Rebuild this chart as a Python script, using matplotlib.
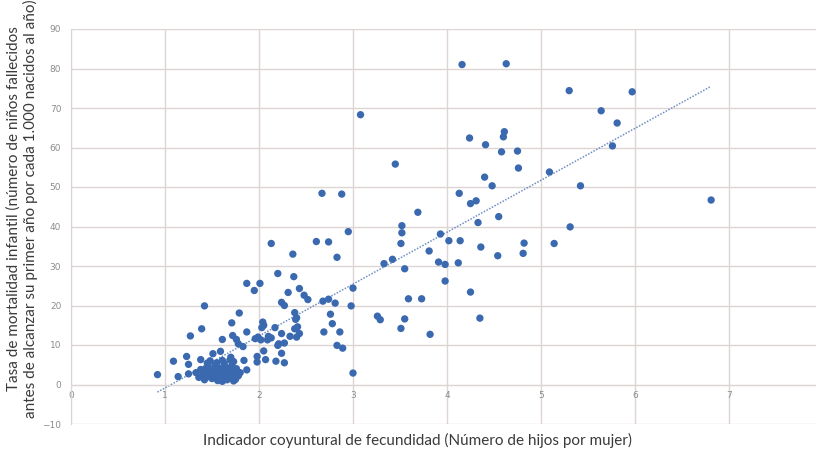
import numpy as np
import matplotlib
matplotlib.use("Agg")
import matplotlib.pyplot as plt

# indicador coyuntural de fecundidad (x) vs tasa de mortalidad infantil (y)
fert_hi = [4.16, 4.63, 5.30, 5.97, 5.64, 5.81, 5.76, 3.08, 4.24, 4.61, 4.60, 4.41, 4.75, 4.58,
           4.76, 4.40, 4.48, 5.09, 5.42, 3.45, 3.69, 4.13, 4.25, 4.31, 4.33, 4.55, 3.52, 3.52,
           3.51, 3.93, 4.02, 4.14, 3.81, 4.36, 4.54, 4.82, 4.81, 3.33, 3.42, 3.55, 3.91, 3.98,
           4.12, 3.98, 4.25, 3.59, 3.73, 3.26, 3.29, 3.55, 3.51, 3.82, 4.35, 5.31, 5.14, 6.81]
mort_hi = [81.0, 81.2, 74.4, 74.1, 69.3, 66.2, 60.4, 68.3, 62.4, 64.0, 62.7, 60.7, 59.1, 58.9,
           54.8, 52.5, 50.3, 53.8, 50.3, 55.8, 43.6, 48.4, 45.8, 46.5, 41.0, 42.5, 40.2, 38.4,
           35.7, 38.1, 36.4, 36.4, 33.8, 34.8, 32.6, 35.8, 33.2, 30.6, 31.7, 29.3, 31.0, 30.4,
           30.8, 26.2, 23.4, 21.7, 21.7, 17.3, 16.4, 16.6, 14.2, 12.7, 16.8, 39.9, 35.7, 46.7]

fert_mid = [2.67, 2.88, 2.95, 2.13, 2.61, 2.74, 2.36, 2.83, 2.20, 2.37, 1.87, 2.01, 1.95, 2.43,
            2.31, 2.48, 2.52, 2.24, 2.27, 2.68, 2.74, 2.81, 3.00, 2.98, 1.79, 2.38, 2.76, 2.40,
            2.39, 2.41, 2.38, 2.43, 2.40, 2.33, 2.24, 2.17, 2.04, 2.05, 2.03, 1.99, 2.02, 2.10,
            2.13, 2.20, 2.21, 2.27, 2.24, 2.05, 1.98, 1.98, 2.07, 2.18, 2.27, 2.78, 2.69, 2.86,
            2.83, 2.89, 3.00, 2.09]
mort_mid = [48.4, 48.2, 38.7, 35.7, 36.2, 36.1, 33.0, 32.2, 28.1, 27.3, 25.6, 25.6, 23.8, 24.3,
            23.3, 22.6, 21.5, 20.8, 20.0, 21.1, 21.6, 20.6, 24.4, 19.9, 18.1, 18.2, 17.8, 16.9,
            16.5, 14.6, 14.1, 12.9, 12.0, 12.2, 12.9, 14.4, 15.8, 15.0, 14.4, 12.0, 11.3, 12.2,
            11.8, 9.9, 10.3, 10.5, 7.9, 8.5, 7.1, 5.7, 6.3, 5.9, 5.5, 15.4, 13.3, 13.3,
            9.9, 9.2, 2.9, 11.3]

fert_lo = [1.42, 1.71, 1.39, 1.27, 1.87, 1.61, 1.72, 1.76, 1.78, 1.83, 1.96, 1.59, 1.51, 1.23,
           1.09, 1.25, 1.38, 1.45, 1.61, 1.70, 1.73, 1.84, 1.87, 0.92, 1.14, 1.25,
           1.33, 1.36, 1.38, 1.40, 1.42, 1.44, 1.46, 1.47, 1.49, 1.50, 1.52, 1.53, 1.54, 1.56,
           1.57, 1.58, 1.59, 1.60, 1.62, 1.63, 1.64, 1.65, 1.66, 1.67, 1.68, 1.70, 1.71, 1.72,
           1.74, 1.75, 1.76, 1.78, 1.80, 1.55, 1.48, 1.69, 1.43, 1.61, 1.73]
mort_lo = [19.9, 15.6, 14.1, 12.3, 13.3, 11.4, 12.4, 11.4, 10.3, 9.6, 11.6, 8.4, 7.8, 7.1,
           5.9, 5.1, 6.3, 5.4, 6.1, 6.9, 5.8, 6.1, 3.7, 2.5, 2.0, 2.7,
           3.0, 1.8, 3.8, 2.4, 1.2, 3.3, 4.4, 2.0, 2.9, 1.5, 3.6, 4.8, 2.3, 1.0,
           3.1, 4.1, 2.6, 1.6, 3.5, 5.2, 2.1, 4.3, 1.2, 2.9, 3.9, 1.8, 4.7, 2.6,
           3.3, 1.3, 4.0, 2.2, 3.0, 5.5, 6.0, 6.2, 4.0, 0.8, 0.9]

x_ticks = [0, 1, 2, 3, 4, 5, 6, 7]
y_ticks = [-10, 0, 10, 20, 30, 40, 50, 60, 70, 80, 90]

fert = np.array(fert_hi + fert_mid + fert_lo)
mort = np.array(mort_hi + mort_mid + mort_lo)

grid_c = "#ddd5d2"
dot_c = "#3b69b0"
fonts = ["Lato", "DejaVu Sans"]

fig = plt.figure(figsize=(8.16, 4.54), dpi=100)
ax = fig.add_axes([71 / 816, 1 - 424 / 454, 752 / 816, 395 / 454])

ax.scatter(fert, mort, s=28, color=dot_c, edgecolors="none", zorder=3)

# linear trend line
k, b = np.polyfit(fert, mort, 1)
xt = np.array([fert.min(), fert.max()])
ax.plot(xt, k * xt + b, color="#6f8fc4", lw=1.1, ls=(0, (1, 1)), zorder=2)

ax.set_xlim(0, 8)
ax.set_ylim(-10, 90)
ax.set_xticks(x_ticks + [8])
ax.set_xticklabels([str(t) for t in x_ticks] + [""])
ax.set_yticks(y_ticks)
ax.grid(True, color=grid_c, lw=1.0, zorder=0)
for s in ["top", "right"]:
    ax.spines[s].set_visible(False)
ax.spines["left"].set_color(grid_c)
ax.spines["bottom"].set_color(grid_c)
ax.spines["bottom"].set_position(("data", 0))
ax.tick_params(length=0, labelsize=6.5, labelcolor="#8c8c8c")
ax.tick_params(axis="x", pad=5)
ax.tick_params(axis="y", pad=7)

fig.text(418 / 816, 1 - 440 / 454, "Indicador coyuntural de fecundidad (Número de hijos por mujer)",
         ha="center", va="center", fontsize=11, family=fonts, color="#3a3a3a")
fig.text(0.027, 0.54, "Tasa de mortalidad infantil (número de niños fallecidos\n"
         "antes de alcanzar su primer año por cada 1.000 nacidos al año)",
         rotation=90, ha="center", va="center", fontsize=11, linespacing=1.15,
         family=fonts, color="#3a3a3a")

fig.savefig("out.png", dpi=100)
